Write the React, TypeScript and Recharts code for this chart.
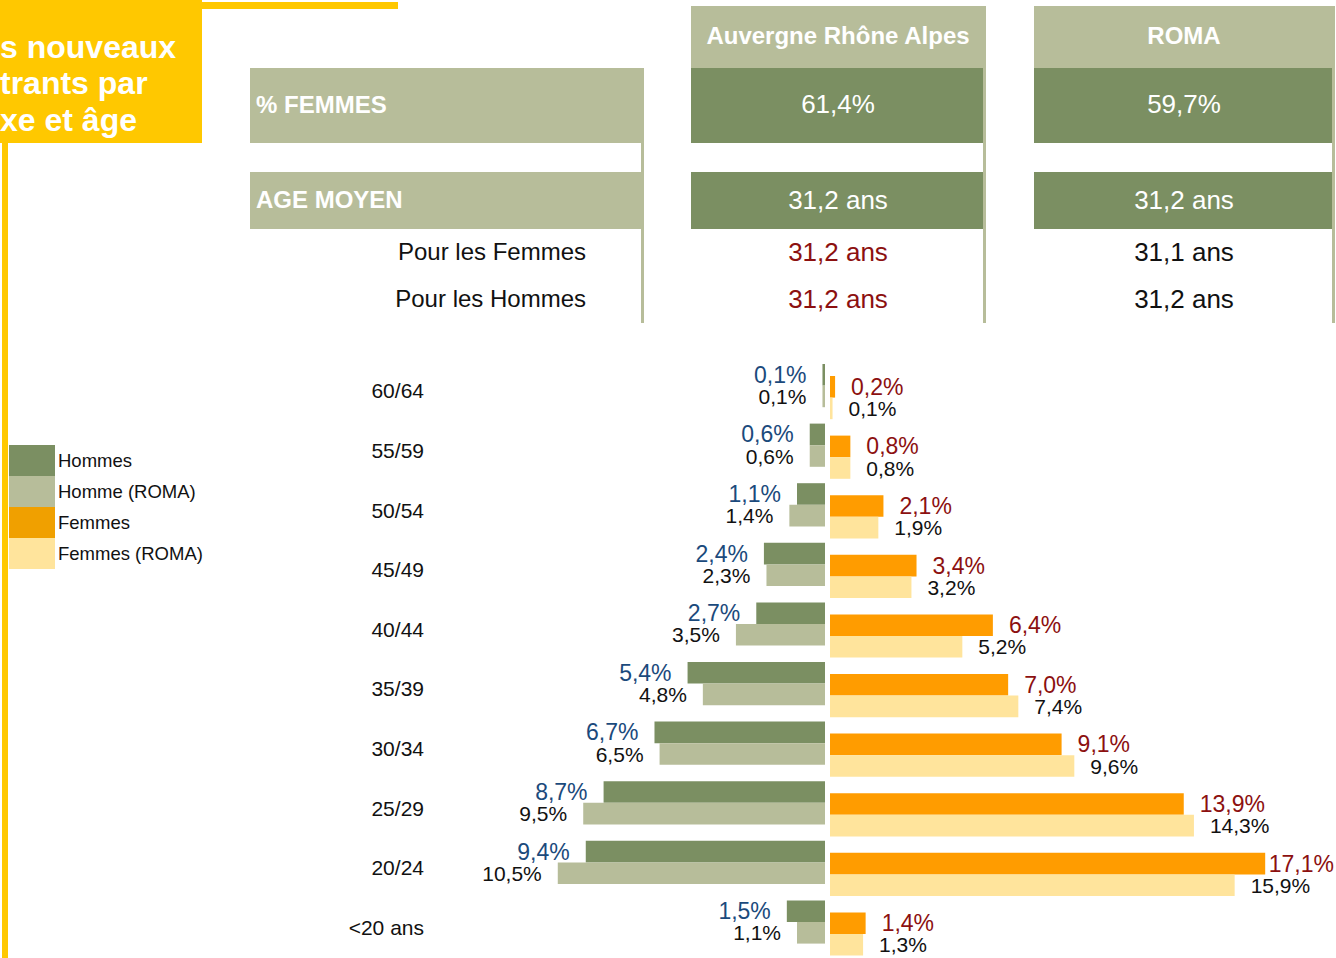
import { BarChart, Bar, XAxis, YAxis, LabelList } from "recharts"

// age groups, top to bottom
const ageGroups = ["60/64", "55/59", "50/54", "45/49", "40/44", "35/39", "30/34", "25/29", "20/24", "<20 ans"]
const hommes = [0.1, 0.6, 1.1, 2.4, 2.7, 5.4, 6.7, 8.7, 9.4, 1.5]
const hommesRoma = [0.1, 0.6, 1.4, 2.3, 3.5, 4.8, 6.5, 9.5, 10.5, 1.1]
const femmes = [0.2, 0.8, 2.1, 3.4, 6.4, 7.0, 9.1, 13.9, 17.1, 1.4]
const femmesRoma = [0.1, 0.8, 1.9, 3.2, 5.2, 7.4, 9.6, 14.3, 15.9, 1.3]

// summary table
const regions = ["Auvergne Rhône Alpes", "ROMA"]
const pctFemmes = ["61,4%", "59,7%"]
const ageMoyen = ["31,2 ans", "31,2 ans"]
const ageFemmes = ["31,2 ans", "31,1 ans"]
const ageHommes = ["31,2 ans", "31,2 ans"]
const titleLines = ["s nouveaux", "trants par", "xe et âge"]

const legendItems = [
  { name: "Hommes", color: "#7B8F62" },
  { name: "Homme (ROMA)", color: "#B7BD9A" },
  { name: "Femmes", color: "#F0A000" },
  { name: "Femmes (ROMA)", color: "#FFE49C" },
]

const FONT = "'Liberation Sans', Arial, sans-serif"
const DARK = "#7B8F62"
const LIGHT = "#B7BD9A"
const ORANGE = "#FF9C00"
const PALE = "#FFE49C"
const BLUE = "#1B4A7C"
const RED = "#8C1010"
const PX_PER_PCT = 25.45

const menData = ageGroups.map((age, i) => ({ age, hommes: hommes[i], hommesRoma: hommesRoma[i] }))
const womenData = ageGroups.map((age, i) => ({ age, femmes: femmes[i], femmesRoma: femmesRoma[i] }))

const fmt = (v: number) => Number(v).toFixed(1).replace(".", ",") + "%"

// rough Arial width, used to keep the right-hand labels inside the page
const textWidth = (s: string, size: number) =>
  s.split("").reduce((w, c) => w + (c === "," ? 0.278 : c === "%" ? 0.889 : 0.556), 0) * size

function sideLabel(side: "left" | "right", color: string, size: number, maxX = Infinity) {
  return (props: any) => {
    const x = Number(props.x), w = Number(props.width), y = Number(props.y), h = Number(props.height)
    const label = fmt(props.value)
    let pos = side === "left" ? Math.min(x, x + w) - 16 : Math.max(x, x + w) + 16
    let anchor = side === "left" ? "end" : "start"
    if (side === "right" && pos + textWidth(label, size) > maxX) {
      pos = maxX
      anchor = "end"
    }
    return (
      <text x={pos} y={y + h / 2} textAnchor={anchor} dominantBaseline="central"
        fill={color} fontSize={size} fontFamily={FONT}>
        {label}
      </text>
    )
  }
}

const AgeTick = (props: any) => (
  <text x={props.x - 8} y={props.y + 5} textAnchor="end" dominantBaseline="central" fill="#111" fontSize={21} fontFamily={FONT}>
    {props.payload.value}
  </text>
)

const box = (left: number, top: number, width: number, height: number, bg: string) => (
  <div style={{ position: "absolute", left, top, width, height, background: bg }} />
)

const txt = (content: string, left: number, top: number, width: number, height: number, style: any) => (
  <div style={{ position: "absolute", left, top, width, height, lineHeight: height + "px", fontFamily: FONT, whiteSpace: "nowrap", ...style }}>
    {content}
  </div>
)

export default function App() {
  const colX = [691, 1034]
  const colW = [292, 298]
  const menW = 495, menPlot = 393
  const womenW = 506, womenPlot = 480

  return (
    <div style={{ position: "absolute", left: 0, top: 0, width: 1336, height: 958, overflow: "hidden", background: "#fff", fontFamily: FONT }}>
      {/* title block */}
      {box(0, 0, 202, 143, "#FFC800")}
      {box(202, 2, 196, 7, "#FFC800")}
      {box(2, 143, 6, 815, "#FFC800")}
      {titleLines.map((line, i) => txt(line, 0, 28.5 + i * 36.8, 202, 36.8, { color: "#fff", fontSize: 32, fontWeight: 700 }))}

      {/* summary table */}
      {box(250, 68, 393, 75, LIGHT)}
      {box(250, 172, 393, 57, LIGHT)}
      {box(641, 68, 2.5, 255, LIGHT)}
      {txt("% FEMMES", 256, 67, 380, 75, { color: "#fff", fontSize: 24, fontWeight: 700 })}
      {txt("AGE MOYEN", 256, 171, 380, 57, { color: "#fff", fontSize: 24, fontWeight: 700 })}
      {txt("Pour les Femmes", 250, 236, 336, 32, { color: "#111", fontSize: 24, textAlign: "right" })}
      {txt("Pour les Hommes", 250, 283, 336, 32, { color: "#111", fontSize: 24, textAlign: "right" })}

      {regions.map((r, i) => (
        <div key={r}>
          {box(colX[i], 6, colW[i] + 3, 62, LIGHT)}
          {box(colX[i], 68, colW[i], 75, DARK)}
          {box(colX[i], 172, colW[i], 57, DARK)}
          {box(colX[i] + colW[i], 6, 3, 317, LIGHT)}
          {txt(r, colX[i] + 1, 6, colW[i], 60, { color: "#fff", fontSize: 24, fontWeight: 700, textAlign: "center" })}
          {txt(pctFemmes[i], colX[i] + 1, 68, colW[i], 72, { color: "#fff", fontSize: 26, textAlign: "center" })}
          {txt(ageMoyen[i], colX[i] + 1, 172, colW[i], 57, { color: "#fff", fontSize: 26, textAlign: "center" })}
          {txt(ageFemmes[i], colX[i] + 1, 236, colW[i], 32, { color: i === 0 ? RED : "#111", fontSize: 26, textAlign: "center" })}
          {txt(ageHommes[i], colX[i] + 1, 283, colW[i], 32, { color: i === 0 ? RED : "#111", fontSize: 26, textAlign: "center" })}
        </div>
      ))}

      {/* legend */}
      {legendItems.map((item, i) => (
        <div key={item.name}>
          {box(9, 445 + i * 31, 46, 31, item.color)}
          {txt(item.name, 58, 445 + i * 31, 180, 31, { color: "#111", fontSize: 18.5 })}
        </div>
      ))}

      {/* men: bars grow to the left */}
      <div style={{ position: "absolute", left: 330, top: 350 }}>
        <BarChart width={menW} height={603} data={menData} layout="vertical" barGap={0}
          margin={{ top: 6, right: 0, bottom: 1, left: 0 }}>
          <XAxis type="number" reversed domain={[0, menPlot / PX_PER_PCT]} hide />
          <YAxis type="category" dataKey="age" width={menW - menPlot} axisLine={false} tickLine={false}
            tickSize={0} tickMargin={0} tick={AgeTick} interval={0} />
          <Bar dataKey="hommes" fill={DARK} barSize={21.6} isAnimationActive={false}>
            <LabelList dataKey="hommes" content={sideLabel("left", BLUE, 23)} />
          </Bar>
          <Bar dataKey="hommesRoma" fill={LIGHT} barSize={21.6} isAnimationActive={false}>
            <LabelList dataKey="hommesRoma" content={sideLabel("left", "#111", 21)} />
          </Bar>
        </BarChart>
      </div>

      {/* women: bars grow to the right */}
      <div style={{ position: "absolute", left: 830, top: 361.5 }}>
        <BarChart width={womenW} height={603} data={womenData} layout="vertical" barGap={0}
          margin={{ top: 6, right: womenW - womenPlot, bottom: 1, left: 0 }}>
          <XAxis type="number" domain={[0, womenPlot / PX_PER_PCT]} hide />
          <YAxis type="category" dataKey="age" hide />
          <Bar dataKey="femmes" fill={ORANGE} barSize={21.6} isAnimationActive={false}>
            <LabelList dataKey="femmes" content={sideLabel("right", RED, 23, womenW - 2)} />
          </Bar>
          <Bar dataKey="femmesRoma" fill={PALE} barSize={21.6} isAnimationActive={false}>
            <LabelList dataKey="femmesRoma" content={sideLabel("right", "#111", 21, womenW - 2)} />
          </Bar>
        </BarChart>
      </div>
    </div>
  )
}
